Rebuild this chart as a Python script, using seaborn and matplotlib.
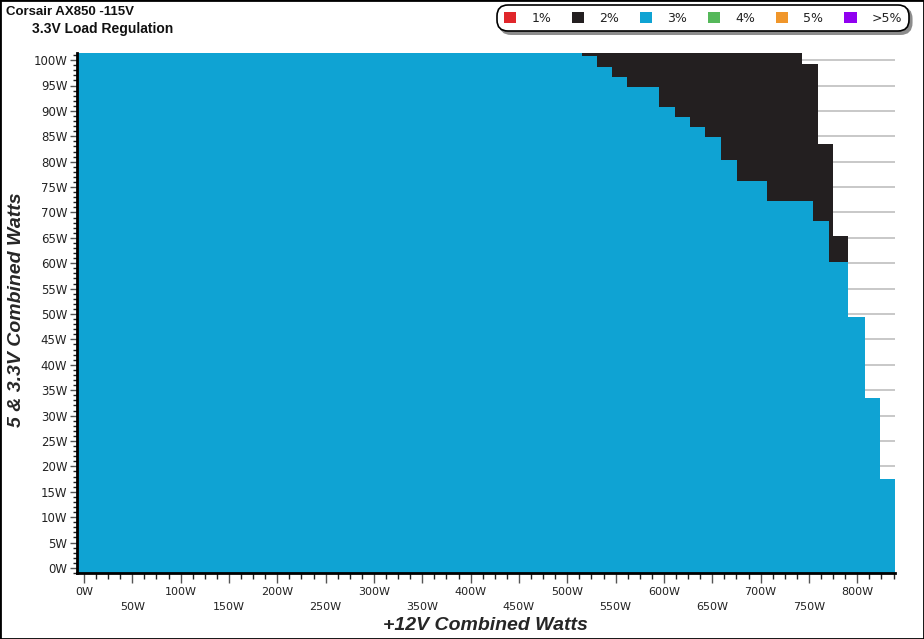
#!/usr/bin/env python3
"""3.3V load regulation cross-load map, Corsair AX850 at 115V."""

import numpy as np
import pandas as pd
import seaborn as sns
import matplotlib

matplotlib.use("Agg", force=True)
import matplotlib.pyplot as plt
from matplotlib.colors import ListedColormap
from matplotlib.patches import Patch, Rectangle
from matplotlib.ticker import MultipleLocator

# outline of the 3% (blue) area: column edges on +12V (W) and top on 5&3.3V (W)
blue_edges = [-7.2, 515.5, 530.4, 546.5, 562.0, 595.1, 611.1, 626.9, 642.4,
              658.6, 675.2, 706.2, 754.4, 771.0, 789.6, 806.9, 822.4, 838.2]
blue_tops = [101.4, 101.0, 98.9, 96.9, 94.9, 90.9, 89.0, 87.0, 85.0,
             80.5, 76.4, 72.4, 68.5, 60.4, 49.5, 33.5, 17.5]

# outline of the 2% (black) area that sits on top of the blue one
black_edges = [515.5, 742.2, 758.3, 773.5, 789.6]
black_tops = [101.4, 99.3, 83.4, 65.4]

y_floor = -1.0

legend_labels = ["1%", "2%", "3%", "4%", "5%", ">5%"]
legend_colors = ["#e0262b", "#231f20", "#0fa3d3", "#55b85a", "#f0962a", "#9000f0"]

x_ticks = list(range(0, 801, 50))
y_ticks = list(range(0, 101, 5))


def step_top(edges, tops, x):
    i = int(np.searchsorted(edges, x)) - 1
    if i < 0 or i >= len(tops):
        return None
    return tops[i]


# build cells of the map from the two outlines
x_bins = sorted(set(blue_edges) | set(black_edges))
y_bins = sorted(set([y_floor] + blue_tops + black_tops))

rows = []
for x0, x1 in zip(x_bins[:-1], x_bins[1:]):
    cx = (x0 + x1) / 2
    bt = step_top(blue_edges, blue_tops, cx)
    kt = step_top(black_edges, black_tops, cx)
    for y0, y1 in zip(y_bins[:-1], y_bins[1:]):
        cy = (y0 + y1) / 2
        if bt is not None and cy < bt:
            rows.append((cx, cy, "3%"))
        elif kt is not None and cy < kt:
            rows.append((cx, cy, "2%"))
cells = pd.DataFrame(rows, columns=["p12", "p5", "level"])

sns.set_theme(style="ticks")
plt.rcParams["font.family"] = ["DejaVu Sans"]

fig = plt.figure(figsize=(9.24, 6.39), dpi=100)
ax = fig.add_axes([77 / 924, 1 - 573 / 639, (895 - 77) / 924, (573 - 53) / 639])

ax.set_axisbelow(True)
ax.yaxis.grid(True, color="#c4c4c4", lw=1.3)
ax.xaxis.grid(False)

for level in ["3%", "2%"]:
    color = legend_colors[legend_labels.index(level)]
    sub = cells[cells.level == level]
    sns.histplot(data=sub, x="p12", y="p5", bins=[x_bins, y_bins],
                 cmap=ListedColormap([color]), cbar=False, ax=ax,
                 edgecolors="face", linewidth=0.4)

ax.set_xlim(-7.2, 839.0)
ax.set_ylim(y_floor, 101.4)
ax.set(xlabel="", ylabel="")

ax.set_yticks(y_ticks)
ax.set_yticklabels([f"{v}W" for v in y_ticks])
ax.yaxis.set_minor_locator(MultipleLocator(1))
ax.set_xticks(x_ticks)
ax.set_xticklabels([f"{v}W" if i % 2 == 0 else f"\n{v}W" for i, v in enumerate(x_ticks)])
ax.xaxis.set_minor_locator(MultipleLocator(12.5))
for lab in ax.get_xticklabels():
    lab.set_linespacing(1.6)

ax.tick_params(axis="both", which="both", left=True, bottom=True, top=False, right=False)
ax.tick_params(axis="both", which="major", direction="out", length=5, width=1,
               color="#555555", labelcolor="#222222", labelsize=8)
ax.tick_params(axis="both", which="minor", direction="out", length=3, width=1, color="#222222")
ax.tick_params(axis="x", which="major", length=7, pad=3)
ax.tick_params(axis="x", which="minor", length=4)
ax.tick_params(axis="y", which="major", pad=2, labelsize=8.5)

for side in ["top", "right"]:
    ax.spines[side].set_visible(False)
for side in ["left", "bottom"]:
    ax.spines[side].set_color("black")
    ax.spines[side].set_linewidth(2)

# titles and axis names
fig.text(6 / 924, 1 - 12 / 639, "Corsair AX850 -115V", family=["Liberation Sans"],
         weight="bold", fontsize=9.5, va="center", ha="left", color="#111111")
fig.text(32 / 924, 1 - 29 / 639, "3.3V Load Regulation", family=["Liberation Sans"],
         weight="bold", fontsize=10, va="center", ha="left", color="#111111")
fig.text(485 / 924, 1 - 625 / 639, "+12V Combined Watts", family=["Liberation Sans"],
         weight="bold", style="italic", fontsize=14, va="center", ha="center")
fig.text(17 / 924, 1 - 310 / 639, "5 & 3.3V Combined Watts", family=["Liberation Sans"],
         weight="bold", style="italic", fontsize=14, va="center", ha="center", rotation=90)

handles = [Patch(facecolor=c, edgecolor="none") for c in legend_colors]
leg = fig.legend(handles, legend_labels, ncol=6, loc="center",
                 bbox_to_anchor=(703 / 924, 1 - 18 / 639), frameon=True, fancybox=True,
                 shadow={"color": "0.55", "alpha": 1}, fontsize=9, handlelength=1.0,
                 handleheight=1.0, handletextpad=1.2, columnspacing=1.65, borderpad=0.35)
frame = leg.get_frame()
frame.set_edgecolor("black")
frame.set_linewidth(1.2)
frame.set_alpha(1)
frame.set_boxstyle("round,pad=0.2,rounding_size=0.9")
for t in leg.get_texts():
    t.set_color("#222222")

fig.patches.append(Rectangle((0, 0), 1, 1, transform=fig.transFigure, fill=False,
                             edgecolor="black", linewidth=2))

fig.savefig("out.png", dpi=100)
